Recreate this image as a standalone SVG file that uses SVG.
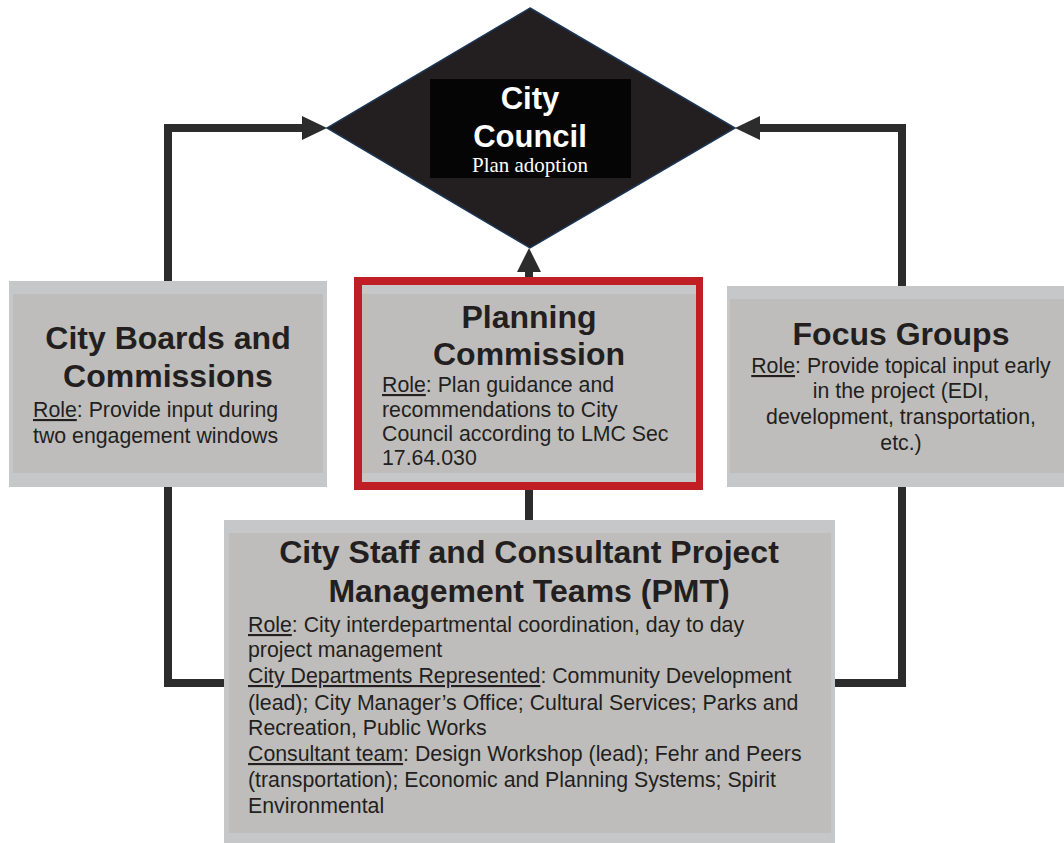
<svg xmlns="http://www.w3.org/2000/svg" width="1064" height="843" viewBox="0 0 1064 843">
<style>
.ln{fill:none;stroke:#2d2c2d;stroke-width:8;stroke-linejoin:miter}
.ah{fill:#2d2c2d}
.outer{fill:#c6c7c9}
.inner{fill:#bebdbb}
.ttl{font-family:"Liberation Sans",Arial,sans-serif;font-weight:bold;font-size:32px;fill:#231f20}
.body{font-family:"Liberation Sans",Arial,sans-serif;font-size:21.3px;fill:#231f20}
.u{text-decoration:underline}
</style>
<rect width="1064" height="843" fill="#ffffff"/>
<g id="connectors">
<path class="ln" d="M224,683 H168 V128 H305"/>
<polygon class="ah" points="302,116 327,128 302,140"/>
<path class="ln" d="M835,683 H902 V128 H757"/>
<polygon class="ah" points="760,116 735,128 760,140"/>
<path class="ln" d="M529,520 V270"/>
<polygon class="ah" points="517,272 529,248 541,272"/>
</g>
<g id="city-council">
<polygon points="530,8 735,128 530,248 327,128" fill="#231f20" stroke="#1b3656" stroke-width="1.5"/>
<rect x="430" y="79" width="201" height="99" fill="#050505"/>
<text x="530" y="109" text-anchor="middle" class="ttl" style="fill:#ffffff;font-size:31px">City</text>
<text x="530" y="147" text-anchor="middle" class="ttl" style="fill:#ffffff;font-size:31px">Council</text>
<text x="530" y="172" text-anchor="middle" font-family="'Liberation Serif','Times New Roman',serif" font-size="21" fill="#ffffff">Plan adoption</text>
</g>
<g id="city-boards">
<rect class="outer" x="9" y="281" width="318" height="206"/>
<rect class="inner" x="13" y="294" width="310" height="179"/>
<text x="168" y="349" text-anchor="middle" class="ttl">City Boards and</text>
<text x="168" y="387" text-anchor="middle" class="ttl">Commissions</text>
<text x="33" y="417" class="body"><tspan class="u">Role</tspan>: Provide input during</text>
<text x="33" y="443" class="body">two engagement windows</text>
</g>
<g id="planning-commission">
<rect x="354" y="277" width="349" height="213" fill="#be1e24"/>
<rect class="outer" x="362" y="285" width="334" height="197"/>
<rect class="inner" x="362" y="294" width="334" height="179"/>
<text x="529" y="328" text-anchor="middle" class="ttl">Planning</text>
<text x="529" y="365" text-anchor="middle" class="ttl">Commission</text>
<text x="382" y="392" class="body"><tspan class="u">Role</tspan>: Plan guidance and</text>
<text x="382" y="417" class="body">recommendations to City</text>
<text x="382" y="441" class="body">Council according to LMC Sec</text>
<text x="382" y="465" class="body">17.64.030</text>
</g>
<g id="focus-groups">
<rect class="outer" x="727" y="286" width="345" height="201"/>
<rect class="inner" x="730" y="299" width="342" height="174"/>
<text x="901" y="345" text-anchor="middle" class="ttl">Focus Groups</text>
<text x="901" y="373" text-anchor="middle" class="body"><tspan class="u">Role</tspan>: Provide topical input early</text>
<text x="901" y="398" text-anchor="middle" class="body">in the project (EDI,</text>
<text x="901" y="424" text-anchor="middle" class="body">development, transportation,</text>
<text x="901" y="450" text-anchor="middle" class="body">etc.)</text>
</g>
<g id="pmt">
<rect class="outer" x="224" y="520" width="611" height="323"/>
<rect class="inner" x="229" y="533" width="602" height="300"/>
<text x="529" y="563" text-anchor="middle" class="ttl">City Staff and Consultant Project</text>
<text x="529" y="602" text-anchor="middle" class="ttl">Management Teams (PMT)</text>
<text x="248" y="632" class="body"><tspan class="u">Role</tspan>: City interdepartmental coordination, day to day</text>
<text x="248" y="657" class="body">project management</text>
<text x="248" y="683" class="body"><tspan class="u">City Departments Represented</tspan>: Community Development</text>
<text x="248" y="710" class="body">(lead); City Manager’s Office; Cultural Services; Parks and</text>
<text x="248" y="735" class="body">Recreation, Public Works</text>
<text x="248" y="761" class="body"><tspan class="u">Consultant team</tspan>: Design Workshop (lead); Fehr and Peers</text>
<text x="248" y="787" class="body">(transportation); Economic and Planning Systems; Spirit</text>
<text x="248" y="813" class="body">Environmental</text>
</g>
</svg>
